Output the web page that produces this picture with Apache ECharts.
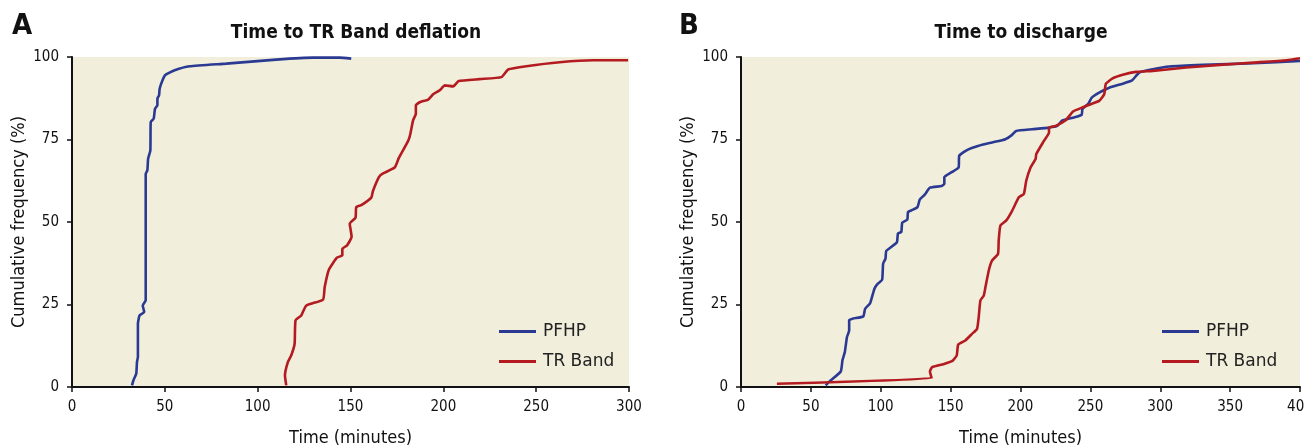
<!DOCTYPE html>
<html><head><meta charset="utf-8">
<script src="https://cdn.jsdelivr.net/npm/echarts@6/dist/echarts.min.js"></script>
<style>html,body{margin:0;padding:0;background:#fff}#c{width:1304px;height:448px}</style>
</head><body><div id="c"></div>
<script>
// Panel A: Time to TR Band deflation
const aPfhpTime = [32.3,33.2,34.6,35.0,35.5,35.5,36.4,38.9,38.1,39.7,39.7,40.6,41.0,42.2,42.4,44.0,44.7,46.0,46.0,46.9,47.2,48.7,50.4,55.3,63.4,83.1,110,129.8,144.2,150.4];
const aPfhpPct  = [0.5,2.2,4.0,7.6,9.1,19.2,21.7,22.7,24.7,26.3,64.6,65.7,69.2,71.7,80.3,81.3,84.3,85.4,87.4,88.4,90.4,92.9,94.6,96.0,97.2,98.0,99.2,99.8,99.8,99.5];
const aTrTime = [115.4,114.7,116.3,118.1,119.9,120.4,123.5,126.2,135.2,136.1,138.4,142.7,145.6,145.6,148.1,150.6,149.6,152.7,153.1,155.8,161.2,162.1,165.3,167.1,173.8,176.1,181.0,182.2,183.7,185.2,185.2,187.3,191.8,194.5,198.1,200.8,205.3,208.3,219.6,231.3,234.9,244.7,262.7,280.7,299.5];
const aTrPct  = [0.5,3.5,7.6,9.6,13.1,20.2,21.7,24.7,26.5,30.3,35.6,39.2,39.9,41.9,42.9,45.5,49.5,51.3,54.5,55.1,57.4,59.4,63.6,64.6,66.5,69.5,74.5,76.6,80.8,82.8,85.4,86.3,87.1,88.7,89.9,91.4,91.1,92.7,93.3,93.9,96.2,97.2,98.4,99.0,99.0];
// Panel B: Time to discharge
const bPfhpTime = [60.6,64.2,71.4,72.6,74.3,75.8,77.4,77.4,79.8,87.5,88.8,92.4,95.5,97.9,101.0,101.7,103.4,103.9,107.5,111.6,112.3,114.7,115.4,119.0,119.5,121.9,126.3,127.9,131.5,135.2,143.6,145.5,145.5,150.8,155.7,156.2,161.7,170.1,179.6,189.2,194.0,196.9,208.4,220.4,226.3,229.9,238.3,243.8,244.3,248.6,251.0,256.3,263.5,273.1,279.8,285.0,294.6,306.6,330.5,366.5,400];
const bPfhpPct  = [0.5,2.0,4.7,8.1,10.6,15.1,17.1,20.2,20.7,21.4,23.7,25.4,29.8,31.3,32.5,37.4,38.9,41.2,42.4,43.9,46.5,47.0,49.8,50.7,53.0,53.5,54.5,56.8,58.3,60.4,60.9,61.6,63.6,65.1,66.5,70.1,71.8,73.1,74.1,75.1,76.4,77.6,78.1,78.6,79.1,80.8,81.7,82.5,84.2,85.9,87.7,89.2,90.7,91.9,92.9,95.3,96.3,97.1,97.6,98.1,98.8];
const bTrTime = [25.7,136.4,135.2,136.8,144.8,151.3,154.4,155.4,160.5,165.3,168.9,170.1,171.3,173.7,174.9,177.3,179.6,183.9,184.4,185.6,189.7,194.0,198.8,202.4,204.1,207.2,210.8,211.3,216.8,220.4,220.4,225.1,232.3,237.6,244.3,250.3,256.3,259.9,261.1,265.9,273.1,282.6,294.6,318.6,342.5,366.5,390.4,400];
const bTrPct  = [1.0,2.7,4.7,6.0,6.9,7.9,9.6,12.8,14.1,16.1,17.6,21.2,26.2,27.7,30.2,35.3,38.3,40.3,44.4,48.9,50.4,53.4,57.5,58.5,62.5,66.5,69.1,70.6,74.6,77.1,78.6,79.1,80.8,83.5,84.7,85.7,86.7,88.7,91.9,93.5,94.6,95.5,95.8,96.8,97.6,98.3,99.0,99.6];
const yTicks = [0,25,50,75,100];
const seriesNames = ['PFHP','TR Band'];
const panelTitles = ['Time to TR Band deflation','Time to discharge'];
const panelLetters = ['A','B'];

const zip = (xs, ys) => xs.map((x, i) => [x, ys[i]]);
const BLUE = '#2a3a93', RED = '#b31b20', BG = '#f2eedc';
const COND = '"Liberation Sans Narrow","DejaVu Sans Condensed","Roboto Condensed",Roboto,sans-serif';
const LEG = '"DejaVu Sans","Open Sans",sans-serif';

function xAx(idx, max) {
  return {
    type: 'value', gridIndex: idx, min: 0, max: max, interval: 50,
    name: 'Time (minutes)', nameLocation: 'middle', nameGap: 42,
    nameTextStyle: {fontFamily: COND, fontSize: 18, color: '#111'},
    axisLine: {show: true, onZero: false, lineStyle: {color: '#111', width: 2}},
    axisTick: {show: true, length: 5, lineStyle: {color: '#111', width: 1.5}},
    axisLabel: {fontFamily: COND, fontSize: 15, color: '#111', margin: 13},
    splitLine: {show: false}
  };
}
function yAx(idx) {
  return {
    type: 'value', gridIndex: idx, min: 0, max: 100, interval: 25,
    name: 'Cumulative frequency (%)', nameLocation: 'middle', nameGap: 44,
    nameTextStyle: {fontFamily: COND, fontSize: 18, color: '#111'},
    axisLine: {show: true, lineStyle: {color: '#111', width: 2}},
    axisTick: {show: true, length: 5, lineStyle: {color: '#111', width: 1.5}},
    axisLabel: {fontFamily: COND, fontSize: 15, color: '#111', margin: 13,
      formatter: v => yTicks.includes(v) ? String(v) : ''},
    splitLine: {show: false}
  };
}
function ser(name, data, idx, color) {
  return {
    type: 'line', name: name, xAxisIndex: idx, yAxisIndex: idx, data: data,
    showSymbol: false, symbol: 'none', smooth: 0.15,
    lineStyle: {color: color, width: 2.6}, itemStyle: {color: color},
    clip: true, animation: false
  };
}
function leg(left) {
  return {
    left: left, top: 316, orient: 'vertical', icon: 'rect',
    itemWidth: 37, itemHeight: 3, itemGap: 9,
    data: seriesNames,
    textStyle: {fontFamily: LEG, fontSize: 17, color: '#222', lineHeight: 21, padding: [0,0,0,2]},
    selectedMode: false
  };
}

const chart = echarts.init(document.getElementById('c'), null, {renderer: 'canvas'});
chart.setOption({
  backgroundColor: '#fff',
  animation: false,
  title: [
    {text: panelLetters[0], left: 7, top: 7, textStyle: {fontFamily: COND, fontSize: 29, fontWeight: 'bold', color: '#111'}},
    {text: panelLetters[1], left: 674, top: 7, textStyle: {fontFamily: COND, fontSize: 29, fontWeight: 'bold', color: '#111'}},
    {text: panelTitles[0], left: 351, top: 19, textAlign: 'center', textStyle: {fontFamily: COND, fontSize: 19, fontWeight: 'bold', color: '#111'}},
    {text: panelTitles[1], left: 1016, top: 19, textAlign: 'center', textStyle: {fontFamily: COND, fontSize: 19, fontWeight: 'bold', color: '#111'}}
  ],
  legend: [leg(494), leg(1157)],
  grid: [
    {left: 72, right: 675, top: 57, bottom: 61, show: true, backgroundColor: BG, borderWidth: 0, outerBoundsMode: 'none'},
    {left: 741, right: 4, top: 57, bottom: 61, show: true, backgroundColor: BG, borderWidth: 0, outerBoundsMode: 'none'}
  ],
  xAxis: [xAx(0, 300), xAx(1, 400)],
  yAxis: [yAx(0), yAx(1)],
  series: [
    ser(seriesNames[0], zip(aPfhpTime, aPfhpPct), 0, BLUE),
    ser(seriesNames[1], zip(aTrTime, aTrPct), 0, RED),
    ser(seriesNames[0], zip(bPfhpTime, bPfhpPct), 1, BLUE),
    ser(seriesNames[1], zip(bTrTime, bTrPct), 1, RED)
  ]
});
</script></body></html>
